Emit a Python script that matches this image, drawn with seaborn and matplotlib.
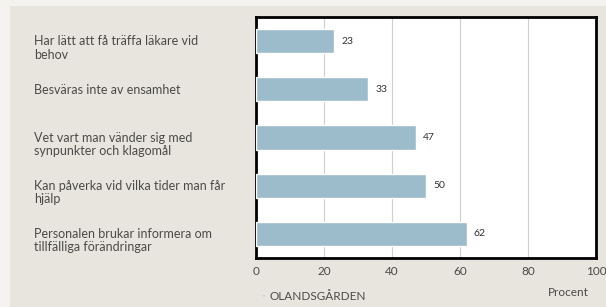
import pandas as pd
import numpy as np
import matplotlib.pyplot as plt
import seaborn as sns
from matplotlib.patches import Rectangle
from matplotlib.transforms import ScaledTranslation

# data
fragor = [
    "Har lätt att få träffa läkare vid\nbehov",
    "Besväras inte av ensamhet",
    "Vet vart man vänder sig med\nsynpunkter och klagomål",
    "Kan påverka vid vilka tider man får\nhjälp",
    "Personalen brukar informera om\ntillfälliga förändringar",
]
procent = [23, 33, 47, 50, 62]
xticks = [0, 20, 40, 60, 80, 100]
enhet = "OLANDSGÅRDEN"

df = pd.DataFrame({"fraga": fragor, "procent": procent, "enhet": enhet})

sns.set_style("white")
plt.rcParams['font.family'] = ['Lato', 'DejaVu Sans']

bg = "#e7e5de"
textcol = "#4a4a48"
barcol = "#9dbccb"

fig = plt.figure(figsize=(6.06, 3.07), dpi=100, facecolor="#f4f3ef")
fig.patches.append(Rectangle((10/606, 0), 1, 1 - 6/307, transform=fig.transFigure,
                             facecolor=bg, edgecolor="none", zorder=-10))
ax = fig.add_axes([256/606, 1 - 258/307, 340/606, 241/307])

sns.barplot(data=df, x="procent", y="fraga", hue="enhet", palette=[barcol],
            width=0.5, ax=ax, legend=False, saturation=1, zorder=3)

ax.set_xlim(0, 100)
ax.set_ylim(4.5, -0.5)
ax.set_xticks(xticks)
ax.xaxis.grid(True, color="#cfcfcf", linewidth=0.8, zorder=0)
ax.set_axisbelow(True)
for s in ax.spines.values():
    s.set_color("black")
    s.set_linewidth(2)

ax.tick_params(axis="x", length=0, pad=6, labelsize=8.5, labelcolor=textcol)
ax.tick_params(axis="y", length=0, pad=160, labelsize=9, labelcolor=textcol)
for t in ax.get_yticklabels():
    t.set_horizontalalignment("left")
    t.set_linespacing(1.15)
    if "\n" in t.get_text():
        # two-line labels sit a bit lower than the bar centre
        t.set_transform(t.get_transform() + ScaledTranslation(0, -5/100, fig.dpi_scale_trans))

for c in ax.containers:
    ax.bar_label(c, padding=5, fontsize=7.5, color="#333333")

ax.set_xlabel("")
ax.set_ylabel("")

fig.text(548/606, 1 - 292/307, "Procent", fontsize=8.5, color=textcol, va="center")
fig.text(263/606, 1 - 296/307, "▪", fontsize=4, color="#b8c8d0", va="center")
fig.text(269/606, 1 - 296/307, enhet, fontsize=8.5, color=textcol, va="center")

fig.savefig("out.png", dpi=100, facecolor=fig.get_facecolor())
